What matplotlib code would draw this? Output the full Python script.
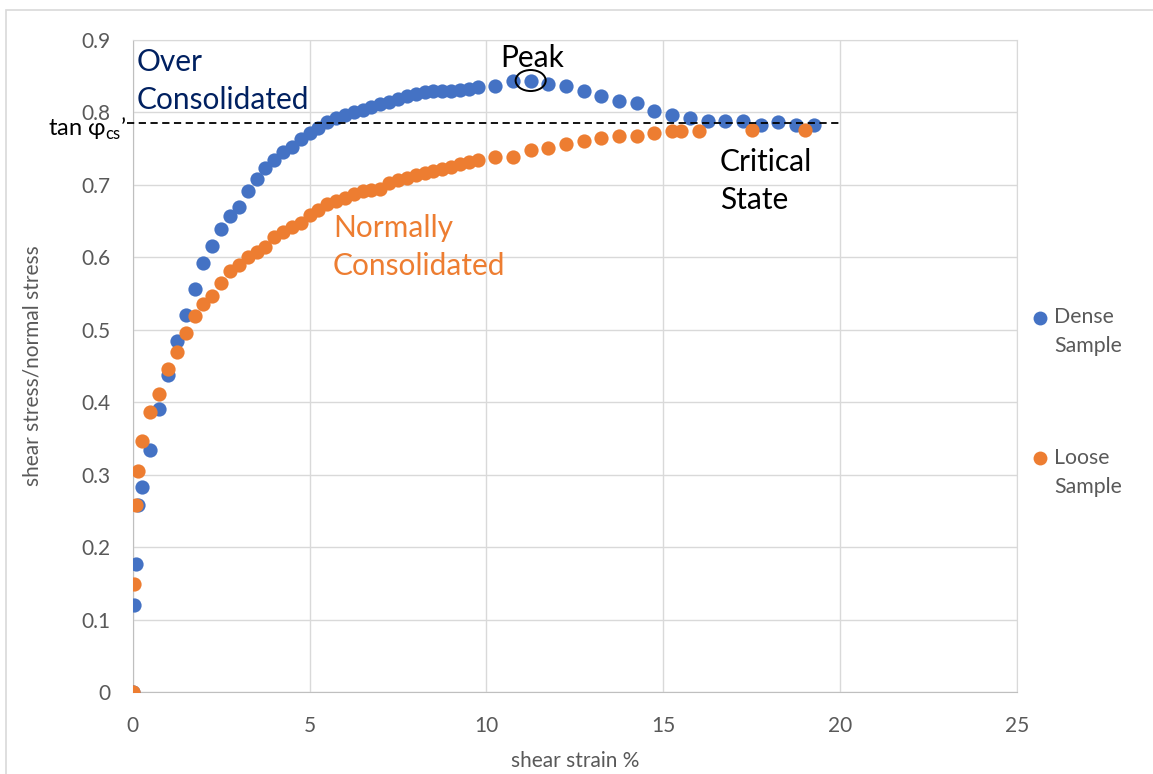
import matplotlib
matplotlib.use("Agg")
import matplotlib.pyplot as plt
from matplotlib.patches import Ellipse, Rectangle

plt.rcParams["font.family"] = ["Lato", "DejaVu Sans"]
plt.rcParams["mathtext.fontset"] = "custom"
plt.rcParams["mathtext.rm"] = "Lato"

# dense sample (over consolidated)
dense_strain = [0, 0.03, 0.1, 0.15, 0.25, 0.5, 0.75, 1.0, 1.25, 1.5, 1.75, 2.0,
                2.25, 2.5, 2.75, 3.0, 3.25, 3.5, 3.75, 4.0, 4.25, 4.5, 4.75, 5.0,
                5.25, 5.5, 5.75, 6.0, 6.25, 6.5, 6.75, 7.0, 7.25, 7.5, 7.75, 8.0,
                8.25, 8.5, 8.75, 9.0, 9.25, 9.5, 9.75, 10.25, 10.75, 11.25, 11.75,
                12.25, 12.75, 13.25, 13.75, 14.25, 14.75, 15.25, 15.75, 16.25,
                16.75, 17.25, 17.75, 18.25, 18.75, 19.25]
dense_ratio = [0, 0.120, 0.177, 0.258, 0.283, 0.334, 0.391, 0.438, 0.484, 0.520,
               0.556, 0.592, 0.616, 0.639, 0.657, 0.670, 0.691, 0.708, 0.724,
               0.735, 0.745, 0.752, 0.763, 0.771, 0.779, 0.787, 0.792, 0.797,
               0.800, 0.804, 0.808, 0.811, 0.815, 0.819, 0.822, 0.825, 0.828,
               0.829, 0.829, 0.830, 0.831, 0.833, 0.835, 0.837, 0.843, 0.844,
               0.839, 0.837, 0.829, 0.822, 0.816, 0.813, 0.802, 0.796, 0.792,
               0.788, 0.788, 0.788, 0.783, 0.787, 0.783, 0.783]

# loose sample (normally consolidated)
loose_strain = [0, 0.05, 0.1, 0.15, 0.25, 0.5, 0.75, 1.0, 1.25, 1.5, 1.75, 2.0,
                2.25, 2.5, 2.75, 3.0, 3.25, 3.5, 3.75, 4.0, 4.25, 4.5, 4.75, 5.0,
                5.25, 5.5, 5.75, 6.0, 6.25, 6.5, 6.75, 7.0, 7.25, 7.5, 7.75, 8.0,
                8.25, 8.5, 8.75, 9.0, 9.25, 9.5, 9.75, 10.25, 10.75, 11.25, 11.75,
                12.25, 12.75, 13.25, 13.75, 14.25, 14.75, 15.25, 15.5, 16.0, 17.5,
                19.0]
loose_ratio = [0, 0.149, 0.258, 0.305, 0.347, 0.386, 0.412, 0.446, 0.470, 0.496,
               0.519, 0.535, 0.547, 0.565, 0.581, 0.589, 0.601, 0.608, 0.615,
               0.628, 0.635, 0.642, 0.647, 0.658, 0.665, 0.673, 0.678, 0.682,
               0.687, 0.691, 0.693, 0.694, 0.702, 0.707, 0.710, 0.713, 0.716,
               0.719, 0.722, 0.725, 0.729, 0.732, 0.735, 0.739, 0.739, 0.748,
               0.751, 0.756, 0.760, 0.765, 0.768, 0.768, 0.771, 0.774, 0.774,
               0.774, 0.776, 0.776]

tan_phi_cs = 0.785
cs_line_end = 20
peak = (11.25, 0.844)

BLUE, ORANGE, GREY = "#4472C4", "#ED7D31", "#595959"
NOTE = 21.5

fig = plt.figure(figsize=(11.53, 7.74), dpi=100)
fig.patches.append(Rectangle((0.0052, -0.05), 1.2, 1.037, transform=fig.transFigure,
                             fill=False, ec="#D9D9D9", lw=1.2))
ax = fig.add_axes([0.1151, 0.1056, 0.7670, 0.8428])

ax.scatter(dense_strain, dense_ratio, s=105, color=BLUE, zorder=3, linewidths=0)
ax.scatter(loose_strain, loose_ratio, s=105, color=ORANGE, zorder=4, linewidths=0)

ax.plot([-0.15, cs_line_end], [tan_phi_cs, tan_phi_cs], color="black", lw=1.3,
        dashes=(4, 2.5), clip_on=False, zorder=5)
ax.add_patch(Ellipse(peak, 0.85, 0.029, fill=False, ec="black", lw=1.4, zorder=6))

ax.set_xlim(0, 25)
ax.set_ylim(0, 0.9)
ax.set_xticks(range(0, 26, 5))
ax.set_yticks([i / 10 for i in range(10)])
ax.set_yticklabels(["0"] + [f"{i / 10:.1f}" for i in range(1, 10)])
ax.grid(color="#D9D9D9", lw=1.0)
ax.set_axisbelow(True)
for side in ax.spines:
    ax.spines[side].set_color("#D9D9D9")
ax.spines["left"].set_color("#BFBFBF")
ax.spines["bottom"].set_color("#BFBFBF")
ax.tick_params(length=0, labelsize=15, labelcolor=GREY)
ax.tick_params(axis="x", pad=17)
ax.tick_params(axis="y", pad=16)

ax.set_xlabel("shear strain %", fontsize=15, color=GREY)
ax.set_ylabel("shear stress/normal stress", fontsize=15, color=GREY)
ax.xaxis.set_label_coords(0.5, -0.09)
ax.yaxis.set_label_coords(-0.102, 0.5)

ax.text(0.12, 0.843, "Over\nConsolidated", fontsize=NOTE, color="#002060",
        ha="left", va="center", linespacing=1.45)
ax.text(5.66, 0.614, "Normally\nConsolidated", fontsize=NOTE, color=ORANGE,
        ha="left", va="center", linespacing=1.45)
ax.text(16.6, 0.705, "Critical\nState", fontsize=NOTE, color="black",
        ha="left", va="center", linespacing=1.45)
ax.text(11.3, 0.875, "Peak", fontsize=NOTE, color="black", ha="center", va="center")
ax.text(-0.16, 0.777, r"tan φ$_{\rm cs}$’", fontsize=17, color="black",
        ha="right", va="center", clip_on=False)

# legend drawn by hand so the marker sits on the first line
for y_mark, y_text, colour, label in [(0.589, 0.5717, BLUE, "Dense\nSample"),
                                      (0.408, 0.3895, ORANGE, "Loose\nSample")]:
    fig.add_artist(plt.Line2D([0.902], [y_mark], marker="o", ms=10, color=colour,
                              mew=0, transform=fig.transFigure))
    fig.text(0.914, y_text, label, fontsize=15.3, color=GREY, ha="left", va="center",
             linespacing=1.55)

fig.savefig("out.png", dpi=100)
